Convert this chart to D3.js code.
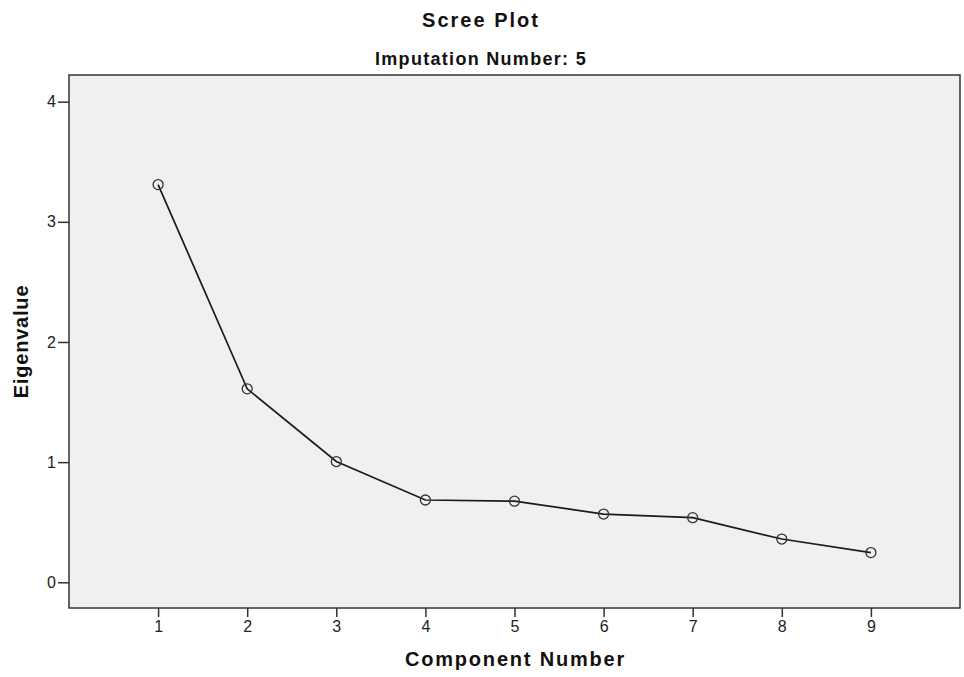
<!DOCTYPE html>
<html>
<head>
<meta charset="utf-8">
<script src="https://cdn.jsdelivr.net/npm/d3@7"></script>
<style>
  body { margin: 0; background: #fff; }
  text { font-family: "Liberation Sans", Arial, sans-serif; }
</style>
</head>
<body>
<svg id="chart" width="964" height="677"></svg>
<script>
    // data
    const components = [1, 2, 3, 4, 5, 6, 7, 8, 9];
    const eigenvalues = [3.31, 1.61, 1.005, 0.685, 0.675, 0.568, 0.538, 0.36, 0.247];
    const xTicks = [1, 2, 3, 4, 5, 6, 7, 8, 9];
    const yTicks = [0, 1, 2, 3, 4];

    const svg = d3.select("#chart");
    const width = +svg.attr("width");
    const height = +svg.attr("height");
    const margin = { top: 75, right: 4, bottom: 69, left: 69 };
    const plotWidth = width - margin.left - margin.right;
    const plotHeight = height - margin.top - margin.bottom;

    const x = d3.scaleLinear().domain([0, 10]).range([0, plotWidth]);
    const y = d3.scaleLinear().domain([-0.214, 4.222]).range([plotHeight, 0]);

    const g = svg.append("g")
                 .attr("transform", "translate(" + margin.left + "," + margin.top + ")");

    // plot background
    g.append("rect")
     .attr("width", plotWidth)
     .attr("height", plotHeight)
     .attr("fill", "#f0f0f0");

    // axes
    const xAxis = g.append("g")
                   .attr("transform", "translate(0," + plotHeight + ")")
                   .call(d3.axisBottom(x).tickValues(xTicks).tickFormat(d3.format("d"))
                           .tickSize(9).tickPadding(4).tickSizeOuter(0));
    const yAxis = g.append("g")
                   .call(d3.axisLeft(y).tickValues(yTicks).tickFormat(d3.format("d"))
                           .tickSize(11).tickPadding(2).tickSizeOuter(0));

    [xAxis, yAxis].forEach(function(a){
        a.select(".domain").remove();
        a.selectAll(".tick line").attr("stroke", "#333").attr("stroke-width", 1.5);
        a.selectAll(".tick text")
         .attr("fill", "#222")
         .style("font-family", "'Liberation Sans', Arial, sans-serif")
         .style("font-size", "16px");
    });

    // frame
    g.append("rect")
     .attr("width", plotWidth)
     .attr("height", plotHeight)
     .attr("fill", "none")
     .attr("stroke", "#333")
     .attr("stroke-width", 1.5);

    // scree line
    const pts = components.map(function(c, i){ return [c, eigenvalues[i]]; });
    const line = d3.line()
                   .x(function(d){ return x(d[0]); })
                   .y(function(d){ return y(d[1]); });

    g.append("path")
     .datum(pts)
     .attr("d", line)
     .attr("fill", "none")
     .attr("stroke", "#1a1a1a")
     .attr("stroke-width", 1.7);

    g.selectAll("circle.pt")
     .data(pts)
     .enter().append("circle")
     .attr("class", "pt")
     .attr("cx", function(d){ return x(d[0]); })
     .attr("cy", function(d){ return y(d[1]); })
     .attr("r", 5)
     .attr("fill", "none")
     .attr("stroke", "#333")
     .attr("stroke-width", 1.3);

    // titles
    svg.append("text")
       .attr("x", 481)
       .attr("y", 27)
       .attr("text-anchor", "middle")
       .style("font-size", "20px")
       .style("font-weight", "bold")
       .style("letter-spacing", "2px")
       .attr("fill", "#111")
       .text("Scree Plot");

    svg.append("text")
       .attr("x", 481)
       .attr("y", 65)
       .attr("text-anchor", "middle")
       .style("font-size", "18px")
       .style("font-weight", "bold")
       .style("letter-spacing", "1.3px")
       .attr("fill", "#111")
       .text("Imputation Number: 5");

    svg.append("text")
       .attr("x", margin.left + plotWidth / 2 + 1)
       .attr("y", 666)
       .attr("text-anchor", "middle")
       .style("font-size", "20px")
       .style("font-weight", "bold")
       .style("letter-spacing", "1.8px")
       .attr("fill", "#111")
       .text("Component Number");

    svg.append("text")
       .attr("transform", "translate(28," + (margin.top + plotHeight / 2) + ") rotate(-90)")
       .attr("text-anchor", "middle")
       .style("font-size", "20px")
       .style("font-weight", "bold")
       .style("letter-spacing", "0.8px")
       .attr("fill", "#111")
       .text("Eigenvalue");
</script>
</body>
</html>
